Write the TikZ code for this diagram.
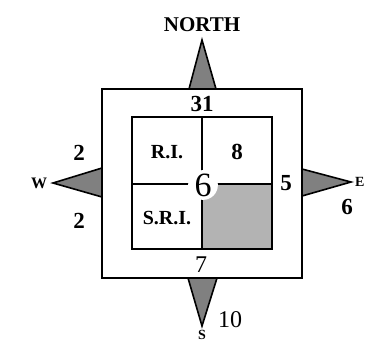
\documentclass[tikz,border=0pt]{standalone}
\usepackage{fontspec}
\setmainfont{Liberation Serif}
\definecolor{pointergray}{RGB}{128,128,128}
\definecolor{cellgray}{RGB}{179,179,179}
\begin{document}
\begin{tikzpicture}[
  x=1pt, y=-1pt,
  wall/.style={draw, line width=1.8pt},
  pointer/.style={draw, line width=1.6pt, fill=pointergray, line join=miter},
  numlabel/.style={inner sep=0pt, font=\bfseries\fontsize{23}{23}\selectfont},
  plainlabel/.style={inner sep=0pt, font=\fontsize{24}{24}\selectfont},
  roomlabel/.style={inner sep=0pt, font=\bfseries\fontsize{20}{20}\selectfont},
  dirlabel/.style={inner sep=0pt, font=\bfseries\fontsize{14}{14}\selectfont}
]
\useasboundingbox (0,0) rectangle (366,343);

% compass pointers
\draw[pointer] (189,89) -- (202,40) -- (216,89) -- cycle;
\draw[pointer] (188,278) -- (202,326) -- (217,278) -- cycle;
\draw[pointer] (102,168) -- (53,183) -- (102,197) -- cycle;
\draw[pointer] (302,169) -- (351,182) -- (302,196) -- cycle;

% outer and inner plan
\draw[wall, fill=white] (102,89) rectangle (302,278);
\fill[cellgray] (202,184) rectangle (272,249);
\draw[wall] (132,117) rectangle (272,249);
\draw[wall] (202,117) -- (202,249);
\draw[wall] (132,184) -- (272,184);

% texts
\node[inner sep=0pt, font=\bfseries\fontsize{21}{21}\selectfont] (north) at (202,25) {NORTH};
\node[dirlabel, font=\bfseries\fontsize{16}{16}\selectfont] (west) at (39,183) {W};
\node[dirlabel, anchor=west] (east) at (355,182) {E};
\node[dirlabel, anchor=north] (south) at (202,330) {S};

\node[numlabel] (top) at (202,104) {31};
\node[numlabel] (wup) at (79,153) {2};
\node[numlabel] (wdown) at (79,221) {2};
\node[numlabel] (eside) at (286,183) {5};
\node[numlabel] (edown) at (347,207) {6};
\node[numlabel] (ne) at (237,152) {8};
\node[roomlabel] (ri) at (167,152) {R.I.};
\node[roomlabel] (sri) at (167,218) {S.R.I.};
\node[plainlabel] (bottom) at (201,265) {7};
\node[plainlabel] (sdown) at (230,320) {10};
\node[circle, fill=white, inner sep=0.5pt, font=\fontsize{34}{34}\selectfont] (centre) at (203,185) {6};
\end{tikzpicture}
\end{document}
